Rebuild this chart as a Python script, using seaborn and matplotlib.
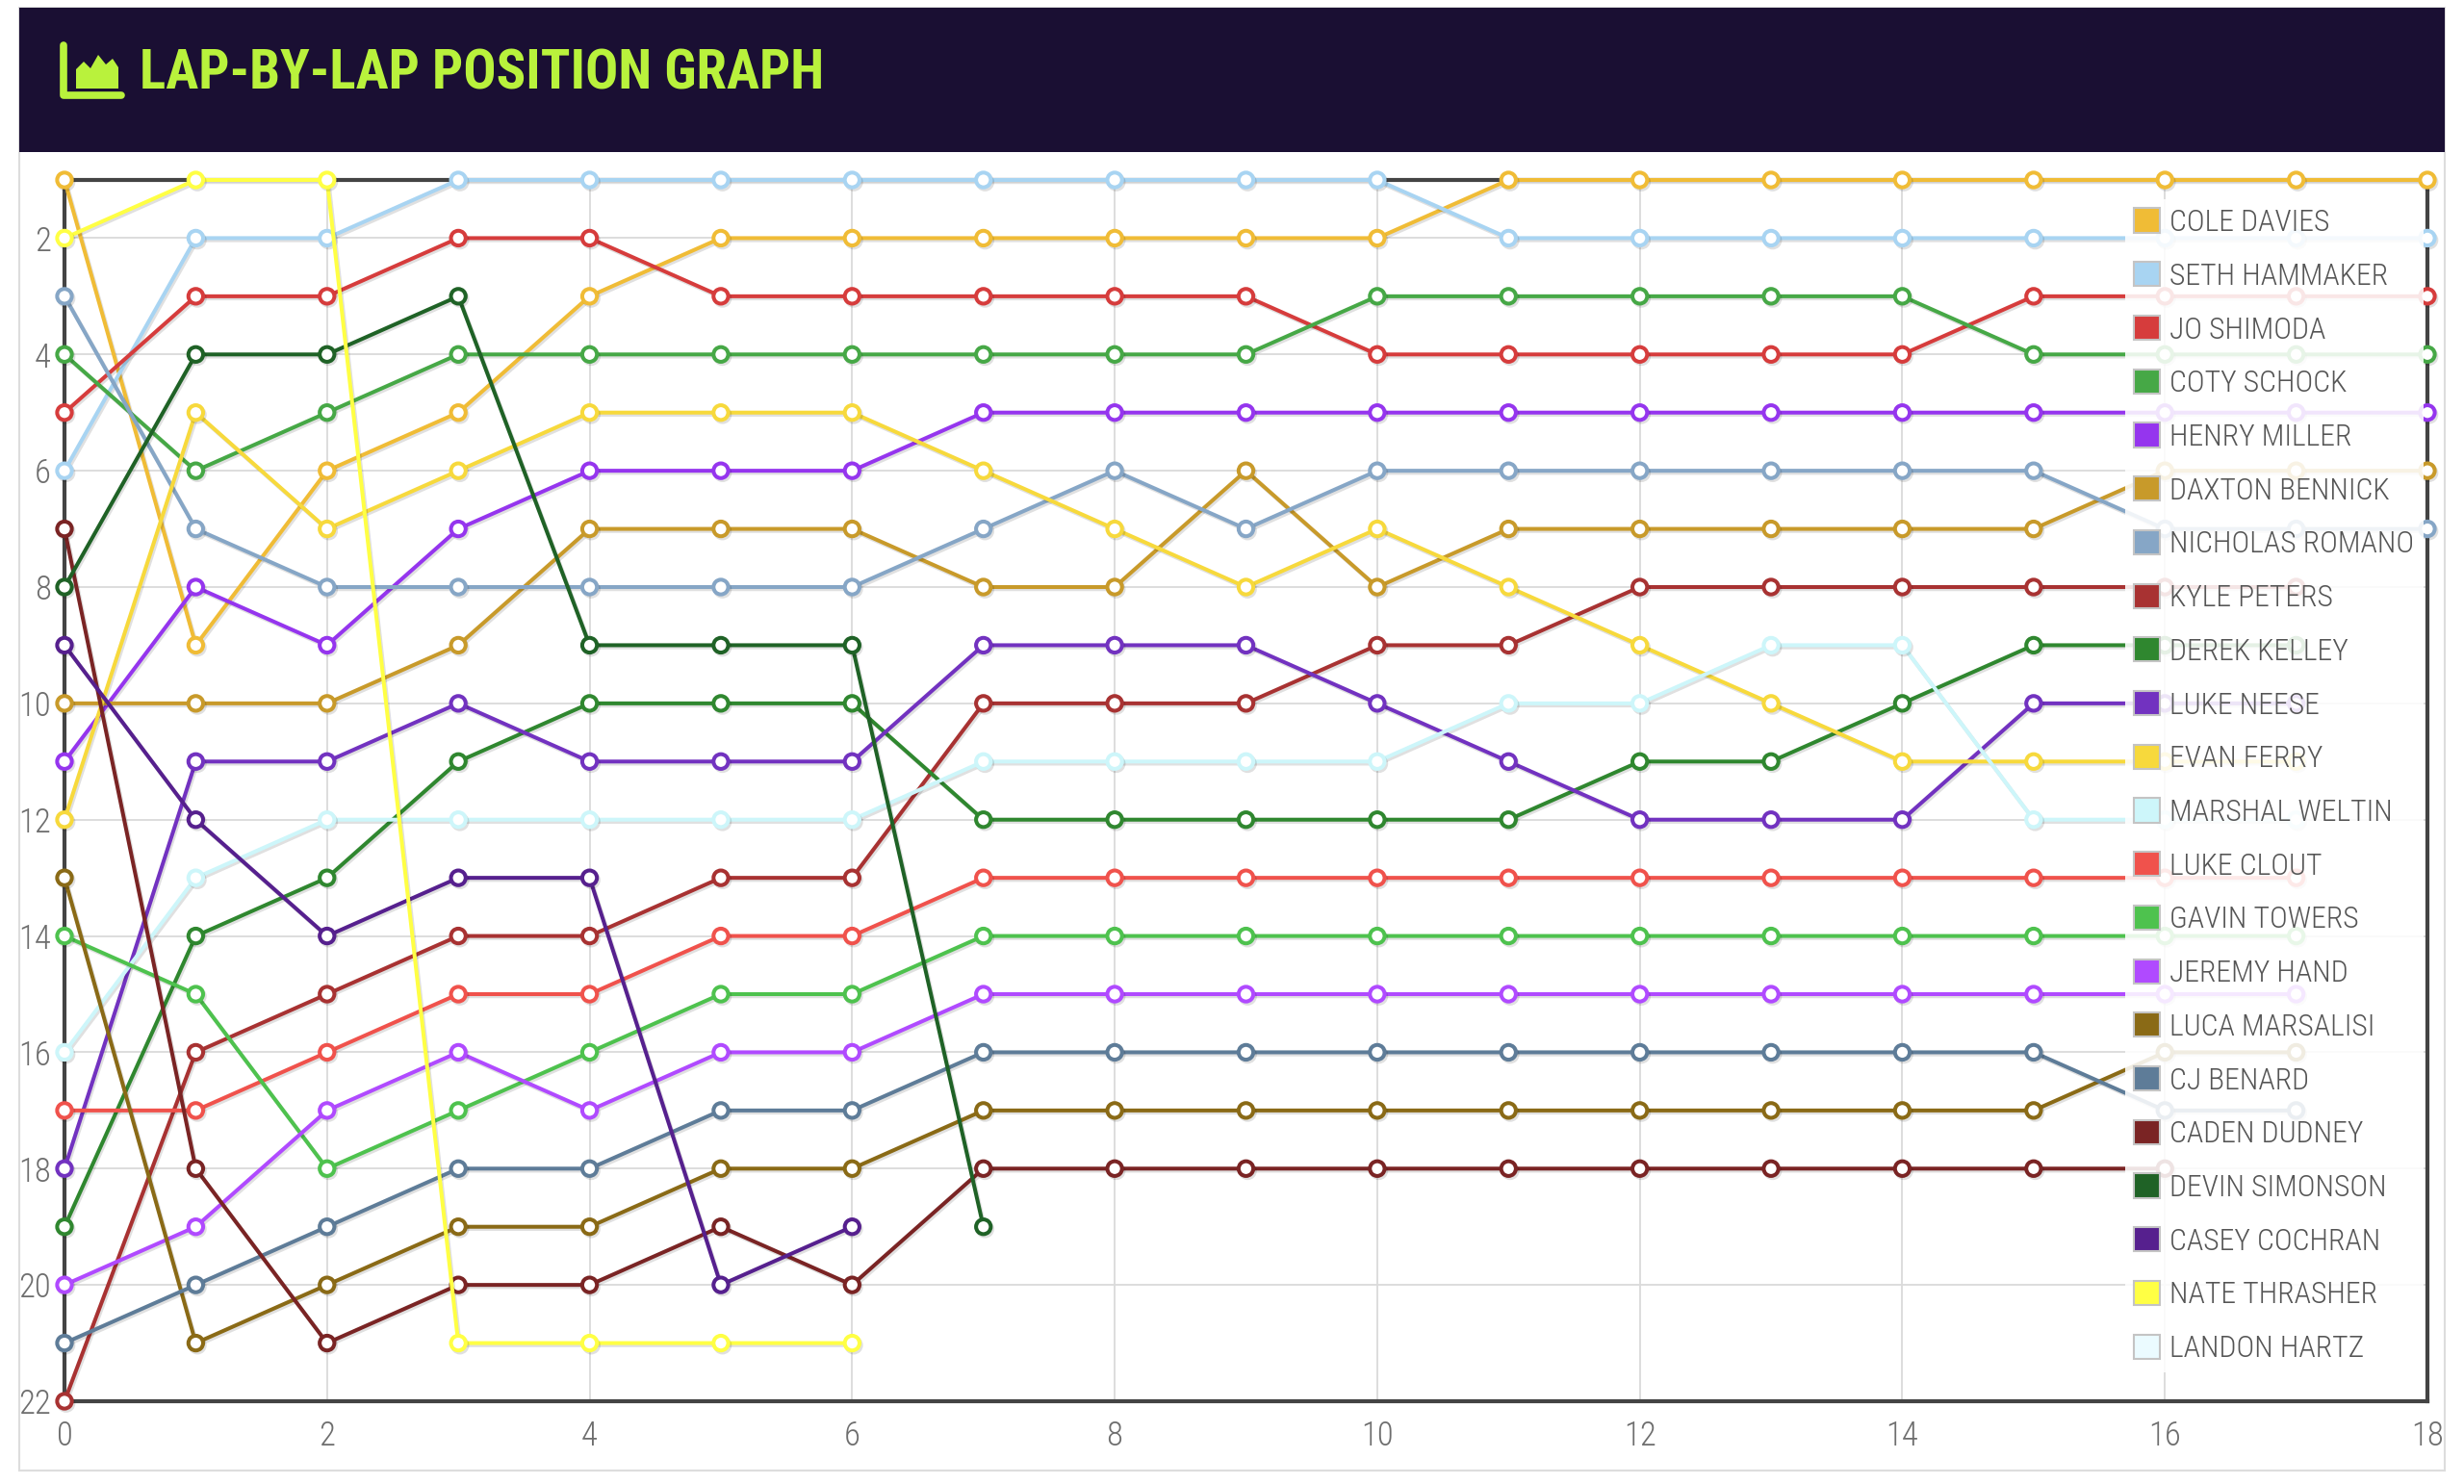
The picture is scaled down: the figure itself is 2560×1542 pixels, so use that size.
import os
import numpy as np
import pandas as pd
import matplotlib
matplotlib.use("Agg")
import matplotlib.pyplot as plt
import matplotlib.patheffects as pe
from matplotlib import font_manager as fm
from matplotlib.patches import Rectangle, Polygon, Patch
from matplotlib.lines import Line2D
import seaborn as sns

sns.set_theme(style="white")
plt.rcParams["font.family"] = ["DejaVu Sans"]

N = None
laps = list(range(19))

drivers = ["COLE DAVIES", "SETH HAMMAKER", "JO SHIMODA", "COTY SCHOCK", "HENRY MILLER",
           "DAXTON BENNICK", "NICHOLAS ROMANO", "KYLE PETERS", "DEREK KELLEY", "LUKE NEESE",
           "EVAN FERRY", "MARSHAL WELTIN", "LUKE CLOUT", "GAVIN TOWERS", "JEREMY HAND",
           "LUCA MARSALISI", "CJ BENARD", "CADEN DUDNEY", "DEVIN SIMONSON", "CASEY COCHRAN",
           "NATE THRASHER", "LANDON HARTZ"]

colors = ["#F0BC36", "#A8D4F2", "#D63C3C", "#46A846", "#9535EE",
          "#C89A2A", "#86A6C6", "#A83232", "#2F872F", "#7232C0",
          "#F7D93C", "#CDF6FA", "#F0524C", "#4EC24E", "#B04AFF",
          "#8A6A16", "#5E7C98", "#7A2424", "#1F6226", "#56208E",
          "#FFFF44", "#EBFBFF"]

cole_davies     = [1, 9, 6, 5, 3, 2, 2, 2, 2, 2, 2, 1, 1, 1, 1, 1, 1, 1, 1]
seth_hammaker   = [6, 2, 2, 1, 1, 1, 1, 1, 1, 1, 1, 2, 2, 2, 2, 2, 2, 2, 2]
jo_shimoda      = [5, 3, 3, 2, 2, 3, 3, 3, 3, 3, 4, 4, 4, 4, 4, 3, 3, 3, 3]
coty_schock     = [4, 6, 5, 4, 4, 4, 4, 4, 4, 4, 3, 3, 3, 3, 3, 4, 4, 4, 4]
henry_miller    = [11, 8, 9, 7, 6, 6, 6, 5, 5, 5, 5, 5, 5, 5, 5, 5, 5, 5, 5]
daxton_bennick  = [10, 10, 10, 9, 7, 7, 7, 8, 8, 6, 8, 7, 7, 7, 7, 7, 6, 6, 6]
nicholas_romano = [3, 7, 8, 8, 8, 8, 8, 7, 6, 7, 6, 6, 6, 6, 6, 6, 7, 7, 7]
kyle_peters     = [22, 16, 15, 14, 14, 13, 13, 10, 10, 10, 9, 9, 8, 8, 8, 8, 8, 8, N]
derek_kelley    = [19, 14, 13, 11, 10, 10, 10, 12, 12, 12, 12, 12, 11, 11, 10, 9, 9, 9, N]
luke_neese      = [18, 11, 11, 10, 11, 11, 11, 9, 9, 9, 10, 11, 12, 12, 12, 10, 10, 10, N]
evan_ferry      = [12, 5, 7, 6, 5, 5, 5, 6, 7, 8, 7, 8, 9, 10, 11, 11, 11, 11, N]
marshal_weltin  = [16, 13, 12, 12, 12, 12, 12, 11, 11, 11, 11, 10, 10, 9, 9, 12, 12, 12, N]
luke_clout      = [17, 17, 16, 15, 15, 14, 14, 13, 13, 13, 13, 13, 13, 13, 13, 13, 13, 13, N]
gavin_towers    = [14, 15, 18, 17, 16, 15, 15, 14, 14, 14, 14, 14, 14, 14, 14, 14, 14, 14, N]
jeremy_hand     = [20, 19, 17, 16, 17, 16, 16, 15, 15, 15, 15, 15, 15, 15, 15, 15, 15, 15, N]
luca_marsalisi  = [13, 21, 20, 19, 19, 18, 18, 17, 17, 17, 17, 17, 17, 17, 17, 17, 16, 16, N]
cj_benard       = [21, 20, 19, 18, 18, 17, 17, 16, 16, 16, 16, 16, 16, 16, 16, 16, 17, 17, N]
caden_dudney    = [7, 18, 21, 20, 20, 19, 20, 18, 18, 18, 18, 18, 18, 18, 18, 18, 18, N, N]
devin_simonson  = [8, 4, 4, 3, 9, 9, 9, 19, N, N, N, N, N, N, N, N, N, N, N]
casey_cochran   = [9, 12, 14, 13, 13, 20, 19, N, N, N, N, N, N, N, N, N, N, N, N]
nate_thrasher   = [2, 1, 1, 21, 21, 21, 21, N, N, N, N, N, N, N, N, N, N, N, N]
landon_hartz    = [N, N, N, N, N, N, N, N, N, N, N, N, N, N, N, N, N, N, N]

series = [cole_davies, seth_hammaker, jo_shimoda, coty_schock, henry_miller,
          daxton_bennick, nicholas_romano, kyle_peters, derek_kelley, luke_neese,
          evan_ferry, marshal_weltin, luke_clout, gavin_towers, jeremy_hand,
          luca_marsalisi, cj_benard, caden_dudney, devin_simonson, casey_cochran,
          nate_thrasher, landon_hartz]

x_ticks = list(range(0, 19, 2))
y_ticks = list(range(2, 23, 2))
title = "LAP-BY-LAP POSITION GRAPH"


# ---- font selection: prefer a condensed face ----
def _files():
    out = {}
    for f in fm.fontManager.ttflist:
        out.setdefault(os.path.basename(f.fname).lower(), f.fname)
    return out


FILES = _files()


def pick_font(cands, bold):
    for c in cands:
        if c.lower() in FILES:
            return fm.FontProperties(fname=FILES[c.lower()])
    for name, path in sorted(FILES.items()):
        if ("condensed" in name or "narrow" in name) and "italic" not in name and "oblique" not in name:
            isbold = "bold" in name and "semi" not in name and "extra" not in name
            if bold == isbold and ("semi" not in name and "extra" not in name and "black" not in name):
                if bold or ("light" in name or "regular" in name or name.endswith("condensed.ttf") or "narrow-regular" in name):
                    return fm.FontProperties(fname=path)
    return fm.FontProperties(family="DejaVu Sans", weight="bold" if bold else "normal")


FP_REG = pick_font(["RobotoCondensed-Light.ttf", "NotoSans-CondensedLight.ttf", "OpenSans-CondensedLight.ttf",
                    "LiberationSansNarrow-Regular.ttf", "RobotoCondensed-Regular.ttf",
                    "NotoSans-Condensed.ttf", "DejaVuSansCondensed.ttf"], bold=False)
FP_BOLD = pick_font(["OpenSans-CondensedBold.ttf", "NotoSans-CondensedBold.ttf", "RobotoCondensed-Bold.ttf",
                     "LiberationSansNarrow-Bold.ttf", "DejaVuSansCondensed-Bold.ttf"], bold=True)


def fp(base, size):
    p = base.copy()
    p.set_size(size)
    return p


W, H = 2560, 1542
fig = plt.figure(figsize=(W / 100, H / 100), dpi=100)
fig.patch.set_facecolor("white")

# card border and header
fig.patches.append(Rectangle((20 / W, 1 - 1528 / H), 2520 / W, 1520 / H, transform=fig.transFigure,
                             fill=False, edgecolor="#dddddd", lw=1.5, zorder=0))
fig.patches.append(Rectangle((20 / W, 1 - 158 / H), 2520 / W, 150 / H, transform=fig.transFigure,
                             facecolor="#1A0F33", edgecolor="none", zorder=1))

lime = "#B9F23C"
# area-chart icon
fig.lines.append(Line2D([66 / W, 66 / W, 126 / W], [1 - 47 / H, 1 - 99 / H, 1 - 99 / H],
                        transform=fig.transFigure, color=lime, lw=5.5,
                        solid_capstyle="round", solid_joinstyle="round", zorder=2))
mountain = [(79, 92), (79, 72), (87, 64), (94, 71), (102, 57), (110, 67), (117, 61), (123, 70), (123, 92)]
fig.patches.append(Polygon([(x / W, 1 - y / H) for x, y in mountain], closed=True,
                           transform=fig.transFigure, facecolor=lime, edgecolor="none", zorder=2))
ttl = fig.text(145 / W, 1 - 77 / H, title, color=lime, fontproperties=fp(FP_BOLD, 47),
               va="center", ha="left", zorder=3)

# size title / legend text to the reference's widths
fig.canvas.draw()
r = fig.canvas.get_renderer()
tw = ttl.get_window_extent(r).width
ttl.set_fontproperties(fp(FP_BOLD, min(50.0, 47 * 712.0 / tw)))
probe = fig.text(0, 0, "NICHOLAS ROMANO", fontproperties=fp(FP_REG, 22))
pw = probe.get_window_extent(r).width
probe.remove()
leg_size = min(24.0, 22 * 254.0 / pw)

ax = fig.add_axes([67 / W, 1 - 1456 / H, (2522 - 67) / W, (1456 - 187) / H])
ax.set_facecolor("white")

shadow = [pe.SimpleLineShadow(offset=(1.2, -1.6), shadow_color="#000000", alpha=0.12), pe.Normal()]
for i, (name, col, vals) in enumerate(zip(drivers, colors, series)):
    df = pd.DataFrame({"lap": laps, "pos": vals}).dropna()
    if df.empty:
        continue
    sns.lineplot(data=df, x="lap", y="pos", ax=ax, color=col, lw=2.9, marker="o",
                 markersize=11, markerfacecolor="white", markeredgecolor=col,
                 markeredgewidth=2.9, estimator=None, legend=False, clip_on=False,
                 zorder=3 + i * 0.01, path_effects=shadow)

ax.set_xlim(0, 18)
ax.set_ylim(22, 1)
ax.set_xticks(x_ticks)
ax.set_yticks(y_ticks)
ax.set_xlabel("")
ax.set_ylabel("")
ax.grid(True, color="#dadada", lw=1.3)
ax.set_axisbelow(True)
for sp in ax.spines.values():
    sp.set_color("#444444")
    sp.set_linewidth(3)
ax.tick_params(axis="both", length=0, colors="#6e6e6e")
ax.tick_params(axis="x", pad=14)
ax.tick_params(axis="y", pad=10)
for lbl in ax.get_xticklabels() + ax.get_yticklabels():
    lbl.set_fontproperties(fp(FP_REG, 25))

handles = [Patch(facecolor=c, edgecolor="#c4c4c4", lw=1.5, label=n) for n, c in zip(drivers, colors)]
leg_px = leg_size / 72.0 * 100.0
leg = ax.legend(handles=handles, loc="upper left", bbox_to_anchor=(2208 / W, 1 - 207 / H),
                bbox_transform=fig.transFigure, frameon=True, framealpha=0.88, facecolor="white",
                edgecolor="none", fancybox=False, prop=fp(FP_REG, leg_size), labelcolor="#555555",
                handlelength=0.85, handleheight=0.85, handletextpad=0.3,
                labelspacing=(55.7 - leg_px) / leg_px + 0.066,
                borderpad=0.3, borderaxespad=0)
leg.set_zorder(100)

fig.savefig("out.png", dpi=100, facecolor="white")
